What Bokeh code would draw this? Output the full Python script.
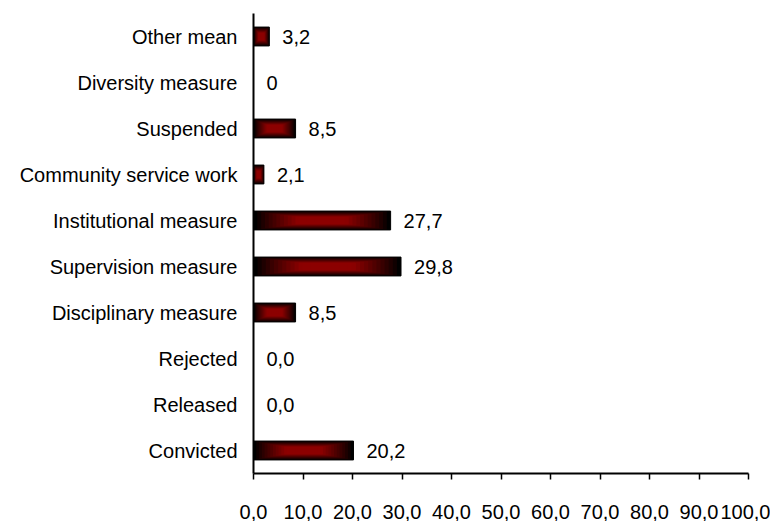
from bokeh.plotting import figure
from bokeh.models import FactorRange, Range1d, FixedTicker, ColumnDataSource
from bokeh.core.properties import value
from bokeh.embed import file_html
from bokeh.resources import INLINE

categories = ["Other mean", "Diversity measure", "Suspended", "Community service work",
              "Institutional measure", "Supervision measure", "Disciplinary measure",
              "Rejected", "Released", "Convicted"]
values = [3.2, 0, 8.5, 2.1, 27.7, 29.8, 8.5, 0.0, 0.0, 20.2]
value_labels = ["3,2", "0", "8,5", "2,1", "27,7", "29,8", "8,5", "0,0", "0,0", "20,2"]
x_ticks = [0, 10, 20, 30, 40, 50, 60, 70, 80, 90, 100]
x_tick_labels = ["0,0", "10,0", "20,0", "30,0", "40,0", "50,0", "60,0", "70,0", "80,0", "90,0", "100,0"]

FONT = "Liberation Sans"
FS = "20px"
BAR_H = 0.41

p = figure(width=770, height=521, output_backend="svg", toolbar_location=None,
           y_range=FactorRange(factors=list(reversed(categories))),
           x_range=Range1d(0, 100),
           min_border_left=253, min_border_right=22, min_border_top=13, min_border_bottom=45)
p.outline_line_color = None
p.xgrid.grid_line_color = None
p.ygrid.grid_line_color = None
p.background_fill_color = "white"
p.border_fill_color = "white"

# gradient bars (from centre): nested rectangles, black edge -> dark red centre
cats_nz = [c for c, v in zip(categories, values) if v > 0]
vals_nz = [v for v in values if v > 0]
N = 18
red = (140, 0, 0)
for j in range(N):
    s = j / N
    t = min(1.0, (s / 0.62)) ** 0.9
    col = "#%02x%02x%02x" % tuple(int(round(c * t)) for c in red)
    src = ColumnDataSource(dict(
        y=cats_nz,
        left=[v * s / 2 for v in vals_nz],
        right=[v * (1 - s / 2) for v in vals_nz],
    ))
    if j == 0:
        p.hbar(y="y", left="left", right="right", height=BAR_H, source=src,
               fill_color=col, line_color="black", line_width=1)
    else:
        p.hbar(y="y", left="left", right="right", height=BAR_H * (1 - s), source=src,
               fill_color=col, line_color=None)

lab_src = ColumnDataSource(dict(y=categories, x=values, text=value_labels))
p.text(x="x", y="y", text="text", source=lab_src, x_offset=13,
       text_font=value(FONT), text_font_size=FS, text_color="black",
       text_baseline="middle", text_align="left")

# axes
p.xaxis.ticker = FixedTicker(ticks=x_ticks)
p.xaxis.major_label_overrides = {t: l for t, l in zip(x_ticks, x_tick_labels)}
p.xaxis.minor_tick_line_color = None
p.xaxis.major_tick_out = 6
p.xaxis.major_tick_in = 0
p.xaxis.major_tick_line_color = "black"
p.xaxis.major_tick_line_width = 1.5
p.xaxis.axis_line_color = "black"
p.xaxis.axis_line_width = 2
p.xaxis.major_label_standoff = 25
p.xaxis.major_label_text_font = FONT
p.xaxis.major_label_text_font_size = FS
p.xaxis.major_label_text_color = "black"

p.yaxis.axis_line_color = "black"
p.yaxis.axis_line_width = 2
p.yaxis.major_tick_line_color = None
p.yaxis.minor_tick_line_color = None
p.yaxis.major_tick_out = 0
p.yaxis.major_tick_in = 0
p.yaxis.major_label_standoff = 16
p.yaxis.major_label_text_font = FONT
p.yaxis.major_label_text_font_size = FS
p.yaxis.major_label_text_color = "black"

open("out.html", "w").write(file_html(p, INLINE))
